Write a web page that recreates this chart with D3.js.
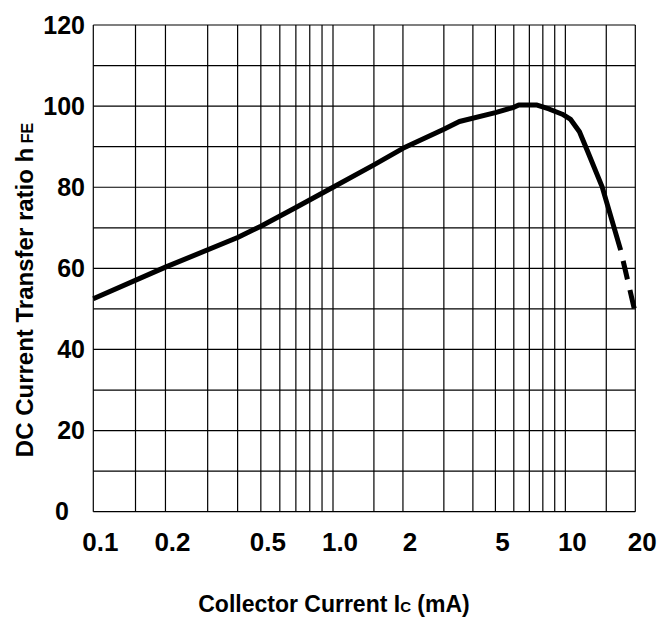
<!DOCTYPE html>
<meta charset="UTF-8">
<title>DC Current Transfer ratio</title>
<style>
  body { margin: 0; background: #fff; }
  text { font-family: "Liberation Sans", Arial, sans-serif; font-weight: bold; fill: #000; }
</style>
<svg width="668" height="622"></svg>
<script src="https://cdnjs.cloudflare.com/ajax/libs/d3/7.8.5/d3.min.js"></script>
<script>
// collector current (mA) and hFE
var current = [0.1, 0.2, 0.4, 0.5, 0.7, 1.0, 1.5, 2, 3, 3.5, 5, 6, 6.3, 7.5, 8.5, 9.7, 10.5, 11.5, 12.4, 14.4, 17.3];
var hfe     = [52.5, 60.3, 67.6, 70.4, 75, 80, 85.5, 89.6, 94.3, 96.2, 98.4, 99.7, 100.3, 100.3, 99.3, 98, 96.8, 93.7, 89.2, 80.1, 64.5];
// dashed tail
var currentTail = [17.3, 19.8];
var hfeTail     = [64.5, 50];

var xTicks = [0.1, 0.2, 0.5, 1, 2, 5, 10, 20];
var xTickLabels = ["0.1", "0.2", "0.5", "1.0", "2", "5", "10", "20"];
var xGrid = [0.1, 0.15, 0.2, 0.3, 0.4, 0.5, 0.6, 0.7, 0.8, 0.9, 1, 1.5, 2, 3, 4, 5, 6, 7, 8, 9, 10, 15, 20];
var yTicks = [0, 20, 40, 60, 80, 100, 120];
var yGrid = d3.range(0, 121, 10);

var svg = d3.select("svg");

var x = d3.scaleLog()
    .domain([0.1, 1, 20])
    .range([93.3, 333, 635.3]);
var y = d3.scaleLinear()
    .domain([0, 120])
    .range([511.7, 25]);

var g = svg.append("g");

// grid
g.selectAll(".vgrid")
  .data(xGrid)
  .enter().append("line")
    .attr("x1", function(d) { return x(d); })
    .attr("x2", function(d) { return x(d); })
    .attr("y1", y(0))
    .attr("y2", y(120))
    .attr("stroke", "#000")
    .attr("stroke-width", 1.2);

g.selectAll(".hgrid")
  .data(yGrid)
  .enter().append("line")
    .attr("x1", x(0.1))
    .attr("x2", x(20))
    .attr("y1", function(d) { return y(d); })
    .attr("y2", function(d) { return y(d); })
    .attr("stroke", "#000")
    .attr("stroke-width", 1.2);

// tick labels
g.selectAll(".xlab")
  .data(xTicks)
  .enter().append("text")
    .attr("x", function(d) { return x(d); })
    .attr("dx", 7)
    .attr("y", 551)
    .attr("text-anchor", "middle")
    .attr("font-size", 26)
    .text(function(d, i) { return xTickLabels[i]; });

g.selectAll(".ylab")
  .data(yTicks)
  .enter().append("text")
    .attr("x", function(d) { return d === 0 ? 69 : 85; })
    .attr("y", function(d) { return y(d); })
    .attr("dy", "0.35em")
    .attr("text-anchor", "end")
    .attr("font-size", 25)
    .text(function(d) { return d; });

// curve
var pts = current.map(function(c, i) { return [c, hfe[i]]; });
var tail = currentTail.map(function(c, i) { return [c, hfeTail[i]]; });

var line = d3.line()
    .x(function(d) { return x(d[0]); })
    .y(function(d) { return y(d[1]); });

g.append("path")
    .datum(pts)
    .attr("fill", "none")
    .attr("stroke", "#000")
    .attr("stroke-width", 5)
    .attr("stroke-linejoin", "round")
    .attr("d", line);

g.append("path")
    .datum(tail)
    .attr("fill", "none")
    .attr("stroke", "#000")
    .attr("stroke-width", 5)
    .attr("stroke-dasharray", "19,11")
    .attr("stroke-dashoffset", 19)
    .attr("d", line);

// axis titles
var xt = svg.append("text")
    .attr("x", 334)
    .attr("y", 611.5)
    .attr("text-anchor", "middle")
    .attr("font-size", 23);
xt.append("tspan").text("Collector Current I");
xt.append("tspan").attr("font-size", 15).text("C");
xt.append("tspan").text(" (mA)");

var yt = svg.append("text")
    .attr("transform", "translate(33,290) rotate(-90)")
    .attr("text-anchor", "middle")
    .attr("font-size", 24);
yt.append("tspan").text("DC Current Transfer ratio h");
yt.append("tspan").attr("font-size", 16).text(" FE");
</script>
